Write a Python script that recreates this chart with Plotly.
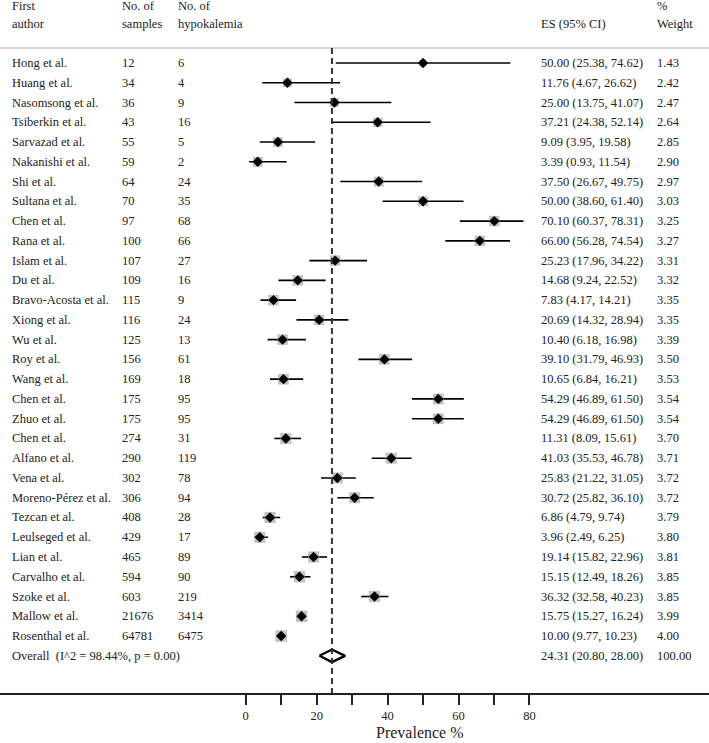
import plotly.graph_objects as go

# study data
authors = [
    "Hong et al.", "Huang et al.", "Nasomsong et al.", "Tsiberkin et al.",
    "Sarvazad et al.", "Nakanishi et al.", "Shi et al.", "Sultana et al.",
    "Chen et al.", "Rana et al.", "Islam et al.", "Du et al.",
    "Bravo-Acosta et al.", "Xiong et al.", "Wu et al.", "Roy et al.",
    "Wang et al.", "Chen et al.", "Zhuo et al.", "Chen et al.",
    "Alfano et al.", "Vena et al.", "Moreno-Pérez et al.", "Tezcan et al.",
    "Leulseged et al.", "Lian et al.", "Carvalho et al.", "Szoke et al.",
    "Mallow et al.", "Rosenthal et al.",
]
samples = [12, 34, 36, 43, 55, 59, 64, 70, 97, 100, 107, 109, 115, 116, 125,
           156, 169, 175, 175, 274, 290, 302, 306, 408, 429, 465, 594, 603,
           21676, 64781]
hypokalemia = [6, 4, 9, 16, 5, 2, 24, 35, 68, 66, 27, 16, 9, 24, 13, 61, 18,
               95, 95, 31, 119, 78, 94, 28, 17, 89, 90, 219, 3414, 6475]
es = [50.00, 11.76, 25.00, 37.21, 9.09, 3.39, 37.50, 50.00, 70.10, 66.00,
      25.23, 14.68, 7.83, 20.69, 10.40, 39.10, 10.65, 54.29, 54.29, 11.31,
      41.03, 25.83, 30.72, 6.86, 3.96, 19.14, 15.15, 36.32, 15.75, 10.00]
ci_low = [25.38, 4.67, 13.75, 24.38, 3.95, 0.93, 26.67, 38.60, 60.37, 56.28,
          17.96, 9.24, 4.17, 14.32, 6.18, 31.79, 6.84, 46.89, 46.89, 8.09,
          35.53, 21.22, 25.82, 4.79, 2.49, 15.82, 12.49, 32.58, 15.27, 9.77]
ci_high = [74.62, 26.62, 41.07, 52.14, 19.58, 11.54, 49.75, 61.40, 78.31,
           74.54, 34.22, 22.52, 14.21, 28.94, 16.98, 46.93, 16.21, 61.50,
           61.50, 15.61, 46.78, 31.05, 36.10, 9.74, 6.25, 22.96, 18.26,
           40.23, 16.24, 10.23]
weights = [1.43, 2.42, 2.47, 2.64, 2.85, 2.90, 2.97, 3.03, 3.25, 3.27, 3.31,
           3.32, 3.35, 3.35, 3.39, 3.50, 3.53, 3.54, 3.54, 3.70, 3.71, 3.72,
           3.72, 3.79, 3.80, 3.81, 3.85, 3.85, 3.99, 4.00]

overall_label = "Overall\u00a0\u00a0(I^2 = 98.44%, p = 0.00)"
overall_es = 24.31
overall_low = 20.80
overall_high = 28.00
overall_weight = 100.00

tick_vals = [0, 10, 20, 30, 40, 50, 60, 70, 80]
tick_text = ["0", "", "20", "", "40", "", "60", "", "80"]
x_title = "Prevalence %"

FONT = "Liberation Serif, Times New Roman, serif"
TXT_SIZE = 12.5
W, H = 709, 743
rows = list(range(1, len(authors) + 1))
overall_row = len(authors) + 1

fig = go.Figure()

# confidence interval lines
cx, cy = [], []
for r, lo, hi in zip(rows, ci_low, ci_high):
    cx += [lo, hi, None]
    cy += [r, r, None]
fig.add_trace(go.Scatter(x=cx, y=cy, mode="lines",
                         line=dict(color="black", width=1.6),
                         hoverinfo="skip", showlegend=False))

# grey weight boxes
fig.add_trace(go.Scatter(
    x=es, y=rows, mode="markers",
    marker=dict(symbol="square", color="#a9a9a9",
                size=[11.5 * (w / 4.0) ** 0.5 for w in weights],
                line=dict(width=0)),
    hoverinfo="skip", showlegend=False))

# point estimates
fig.add_trace(go.Scatter(
    x=es, y=rows, mode="markers",
    marker=dict(symbol="diamond", color="black", size=8, line=dict(width=0)),
    text=authors, hovertemplate="%{text}: %{x:.2f}<extra></extra>",
    showlegend=False))

# overall diamond
fig.add_trace(go.Scatter(
    x=[overall_low, overall_es, overall_high, overall_es, overall_low],
    y=[overall_row, overall_row - 0.32, overall_row, overall_row + 0.32,
       overall_row],
    mode="lines", line=dict(color="black", width=2.4),
    hoverinfo="skip", showlegend=False))

# layout helpers
px_per_unit = 3.547
x0_px = 245.7
x_range = [-x0_px / px_per_unit, (W - x0_px) / px_per_unit]
row_px = 19.76
first_row_px = 63
plot_bottom = 693
y_top = 1 - first_row_px / row_px
y_bottom = 1 + (plot_bottom - first_row_px) / row_px
header_line = 1 - 15 / row_px

fig.add_shape(type="line", xref="paper", yref="y", x0=0, x1=1,
              y0=header_line, y1=header_line,
              line=dict(color="#c8c8c8", width=1.5))
fig.add_shape(type="line", xref="x", yref="y", x0=overall_es, x1=overall_es,
              y0=header_line, y1=y_bottom,
              line=dict(color="#333333", width=2, dash="6px,4px"))

annotations = []


def txt(xpx, y, s):
    annotations.append(dict(x=xpx / W, xref="paper", y=y, yref="y", text=s,
                            showarrow=False, xanchor="left", yanchor="middle",
                            font=dict(family=FONT, size=TXT_SIZE,
                                      color="#222222")))


col_author, col_n, col_hk, col_es, col_w = 10, 120, 176, 539, 655
h1 = 1 - 57 / row_px
h2 = 1 - 39 / row_px
txt(col_author, h1, "First")
txt(col_author, h2, "author")
txt(col_n, h1, "No. of")
txt(col_n, h2, "samples")
txt(col_hk, h1, "No. of")
txt(col_hk, h2, "hypokalemia")
txt(col_es, h2, "ES (95% CI)")
txt(col_w, h1, "%")
txt(col_w, h2, "Weight")

for r, a, n, k, e, lo, hi, w in zip(rows, authors, samples, hypokalemia, es,
                                     ci_low, ci_high, weights):
    txt(col_author, r, a)
    txt(col_n, r, str(n))
    txt(col_hk, r, str(k))
    txt(col_es, r, f"{e:.2f} ({lo:.2f}, {hi:.2f})")
    txt(col_w, r, f"{w:.2f}")

txt(col_author, overall_row, overall_label)
txt(col_es, overall_row,
    f"{overall_es:.2f} ({overall_low:.2f}, {overall_high:.2f})")
txt(col_w, overall_row, f"{overall_weight:.2f}")

# axis title sits right of the plot centre in the original, so place it by hand
annotations.append(dict(x=419.5 / W, xref="paper",
                        y=-(733 - plot_bottom) / plot_bottom, yref="paper",
                        text=x_title, showarrow=False,
                        xanchor="center", yanchor="middle",
                        font=dict(family=FONT, size=16, color="#222222")))

fig.update_layout(
    width=W, height=H,
    margin=dict(l=0, r=0, t=0, b=H - plot_bottom, pad=0),
    paper_bgcolor="white", plot_bgcolor="white",
    annotations=annotations,
    font=dict(family=FONT, color="#222222"),
)
fig.update_xaxes(range=x_range, tickvals=tick_vals, ticktext=tick_text,
                 ticks="outside", ticklen=10, tickwidth=2, tickcolor="#222222",
                 showline=True, linecolor="#222222", linewidth=2,
                 showgrid=False, zeroline=False, automargin=False,
                 tickfont=dict(family=FONT, size=TXT_SIZE, color="#222222"))
fig.update_yaxes(range=[y_bottom, y_top], visible=False, showgrid=False,
                 zeroline=False)

# drop the default page margin so the figure fills the window exactly
fig.write_html("out.html", config={"displayModeBar": False},
               post_script="document.body.style.margin='0';"
                           "document.body.style.overflow='hidden';")
